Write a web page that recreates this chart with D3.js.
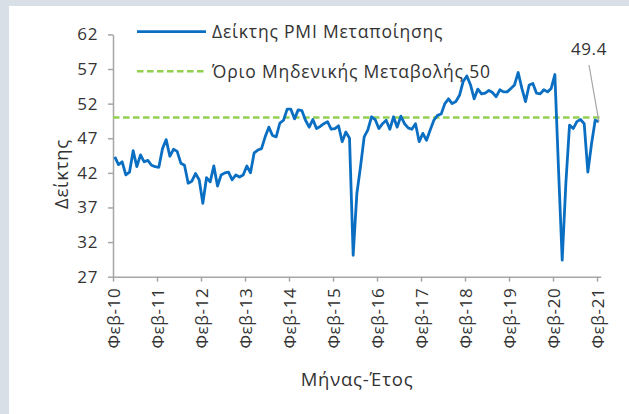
<!DOCTYPE html>
<html>
<head>
<meta charset="utf-8">
<script src="https://cdn.jsdelivr.net/npm/d3@7"></script>
<style>
  body { margin: 0; background: #d9dfe6; }
  text { font-family: "Open Sans", sans-serif; fill: #333; }
</style>
</head>
<body>
<div id="chart"></div>
<script>
// monthly PMI, Feb-10 ... Feb-21 (133 months)
const pmi = [
  44.3, 43.2, 43.6, 41.7, 42.1, 45.2, 42.9, 44.6, 43.6, 43.8, 43.1, 42.9,
  42.8, 45.5, 46.8, 44.4, 45.4, 45.1, 43.4, 43.1, 40.5, 40.8, 41.9, 41.0,
  37.6, 41.3, 40.7, 43.0, 40.1, 41.7, 42.0, 42.1, 41.0, 41.7, 41.4, 41.7,
  43.0, 42.0, 44.9, 45.3, 45.5, 47.2, 48.6, 47.4, 47.2, 49.2, 49.6, 51.2,
  51.2, 49.8, 51.1, 51.0, 49.6, 48.6, 49.7, 48.4, 48.7, 49.1, 49.4, 48.3,
  48.4, 48.8, 46.5, 47.9, 47.0, 30.1, 39.0, 42.9, 47.2, 48.2, 50.1, 49.7,
  48.4, 49.1, 49.6, 48.3, 50.1, 48.6, 50.2, 49.1, 48.5, 48.3, 49.1, 46.5,
  47.7, 46.7, 48.2, 49.6, 50.3, 50.5, 52.0, 52.7, 52.0, 52.3, 53.2, 55.2,
  56.0, 54.7, 52.7, 54.1, 53.4, 53.5, 53.9, 53.6, 53.0, 54.0, 53.7, 53.7,
  54.2, 54.7, 56.5, 54.2, 52.3, 54.7, 54.9, 53.5, 53.4, 54.0, 53.7, 54.2,
  56.2, 42.5, 29.4, 40.5, 48.9, 48.4, 49.4, 49.7, 49.1, 42.1, 46.2, 49.6,
  49.4
]
const tickLabels = ["Φεβ-10","Φεβ-11","Φεβ-12","Φεβ-13","Φεβ-14","Φεβ-15",
                    "Φεβ-16","Φεβ-17","Φεβ-18","Φεβ-19","Φεβ-20","Φεβ-21"]
const yTicks = [27, 32, 37, 42, 47, 52, 57, 62]
const threshold = 50
const seriesNames = ["Δείκτης PMI Μεταποίησης", "Όριο Μηδενικής Μεταβολής 50"]

const width = 629
const height = 414
const blue = "#0a6fc2"
const green = "#92d050"
const axisGray = "#a6a6a6"

const svg = d3.select("#chart").append("svg")
  .attr("width", width)
  .attr("height", height)

// white panel
svg.append("rect")
  .attr("x", 9).attr("y", 6)
  .attr("width", width - 9).attr("height", height - 6)
  .attr("fill", "white")

// SCALES (each month is a slot, point in the middle of the slot)
const xScale = d3.scaleLinear()
  .domain([0, pmi.length])
  .range([113, 600.7])

const yScale = d3.scaleLinear()
  .domain([27, 62])
  .range([276.7, 34.4])

// AXES
const yAxis = d3.axisLeft(yScale)
  .tickValues(yTicks)
  .tickSize(5)
  .tickSizeOuter(0)
  .tickPadding(10)

const yAxisGroup = svg.append("g")
  .attr("transform", `translate(${113}, 0)`)
  .call(yAxis)

const xAxis = d3.axisBottom(xScale)
  .tickValues(tickLabels.map((d, i) => i * 12))
  .tickFormat((d, i) => tickLabels[i])
  .tickSize(5)
  .tickSizeOuter(0)

const xAxisGroup = svg.append("g")
  .attr("transform", `translate(0, ${yScale(27)})`)
  .call(xAxis)

xAxisGroup.selectAll("text")
  .attr("transform", "rotate(-90)")
  .attr("text-anchor", "end")
  .attr("x", -11)
  .attr("y", 0)
  .attr("dy", "0.36em")

svg.selectAll(".domain, .tick line").attr("stroke", axisGray).attr("stroke-width", 1.5)
svg.selectAll(".tick text")
  .style("font-size", "17px")
  .style("letter-spacing", "0.6px")
  .attr("fill", "#333")

// axis titles
svg.append("text")
  .attr("transform", `translate(${68}, ${174}) rotate(-90)`)
  .attr("text-anchor", "middle")
  .style("font-size", "18.5px")
  .style("letter-spacing", "0.8px")
  .text("Δείκτης")

svg.append("text")
  .attr("x", 357).attr("y", 386)
  .attr("text-anchor", "middle")
  .style("font-size", "18.5px")
  .style("letter-spacing", "0.8px")
  .text("Μήνας-Έτος")

// THRESHOLD LINE
svg.append("line")
  .attr("x1", xScale(0)).attr("x2", xScale(pmi.length))
  .attr("y1", yScale(threshold)).attr("y2", yScale(threshold))
  .attr("stroke", green)
  .attr("stroke-width", 2.5)
  .attr("stroke-dasharray", "6.5,3.5")

// PMI LINE
const line = d3.line()
  .x((d, i) => xScale(i + 0.5))
  .y(d => yScale(d))

svg.append("path")
  .datum(pmi)
  .attr("d", line)
  .attr("fill", "none")
  .attr("stroke", blue)
  .attr("stroke-width", 2.8)
  .attr("stroke-linejoin", "round")

// last value callout
const lastI = pmi.length - 1
const lx = xScale(lastI + 0.5)
const ly = yScale(pmi[lastI])
svg.append("line")
  .attr("x1", 589).attr("y1", 65)
  .attr("x2", lx).attr("y2", ly)
  .attr("stroke", "#a6a6a6")
  .attr("stroke-width", 1.2)

svg.append("text")
  .attr("x", 589).attr("y", 55)
  .attr("text-anchor", "middle")
  .style("font-size", "17px")
  .style("letter-spacing", "0.6px")
  .text(d3.format(".1f")(pmi[lastI]))

// LEGEND
const legend = svg.selectAll(".legend")
  .data(seriesNames)
  .join("g")
  .attr("transform", (d, i) => `translate(137, ${31.7 + i * 39.5})`)

legend.append("line")
  .attr("x1", 0).attr("x2", 69)
  .attr("stroke", (d, i) => i === 0 ? blue : green)
  .attr("stroke-width", (d, i) => i === 0 ? 2.8 : 2.5)
  .attr("stroke-dasharray", (d, i) => i === 0 ? null : "6.5,3.5")

legend.append("text")
  .attr("x", 75)
  .attr("dy", "0.36em")
  .style("font-size", "17.5px")
  .style("letter-spacing", "0.8px")
  .text(d => d)
</script>
</body>
</html>
